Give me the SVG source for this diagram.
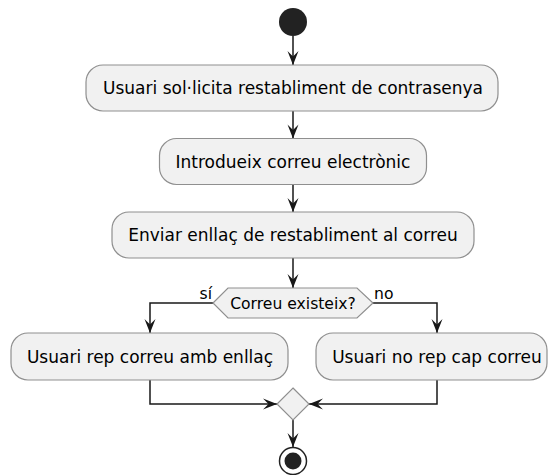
<svg xmlns="http://www.w3.org/2000/svg" width="550" height="475" viewBox="0 0 550 475">
<style>
.box{fill:#F1F1F1;stroke:#8f8f8f;stroke-width:1.2}
.t{font-family:"DejaVu Sans",sans-serif;font-size:17px;fill:#000;text-anchor:middle}
.s{font-family:"DejaVu Sans",sans-serif;font-size:15.6px;fill:#000}
.c{fill:none;stroke:#181818;stroke-width:1.5}
</style>
<defs>
<marker id="ah" viewBox="-15 -7 16 14" refX="0" refY="0" markerWidth="16" markerHeight="14" markerUnits="userSpaceOnUse" orient="auto">
<path d="M0,0 L-14,-5.5 L-8.5,0 L-14,5.5 Z" fill="#181818"/>
</marker>
</defs>
<g id="connectors">
<path class="c" d="M293,36 V65" marker-end="url(#ah)"/>
<path class="c" d="M293,111 V138.5" marker-end="url(#ah)"/>
<path class="c" d="M293,184.5 V212" marker-end="url(#ah)"/>
<path class="c" d="M293,258 V288" marker-end="url(#ah)"/>
<path class="c" d="M213,303 H150 V333" marker-end="url(#ah)"/>
<path class="c" d="M373,303 H437 V333" marker-end="url(#ah)"/>
<path class="c" d="M150,380 V404 H277" marker-end="url(#ah)"/>
<path class="c" d="M437,380 V404 H309" marker-end="url(#ah)"/>
<path class="c" d="M293,420 V447" marker-end="url(#ah)"/>
<text class="s" x="212" y="299" text-anchor="end">sí</text>
<text class="s" x="374" y="299">no</text>
</g>
<g id="start"><circle cx="293" cy="22" r="14" fill="#222"/></g>
<g id="n1"><rect class="box" x="86" y="65" width="412" height="46" rx="17"/><text class="t" x="293" y="94">Usuari sol·licita restabliment de contrasenya</text></g>
<g id="n2"><rect class="box" x="159.5" y="138.5" width="267" height="46" rx="17"/><text class="t" x="293" y="167.5">Introdueix correu electrònic</text></g>
<g id="n3"><rect class="box" x="112" y="212" width="362" height="46" rx="17"/><text class="t" x="293" y="241">Enviar enllaç de restabliment al correu</text></g>
<g id="d1"><polygon class="box" points="213,303 228,288 357,288 373,303 357,318 228,318"/><text class="s" x="293" y="308.5" text-anchor="middle">Correu existeix?</text></g>
<g id="n4"><rect class="box" x="11" y="333" width="277" height="47" rx="17"/><text class="t" x="150" y="362.5">Usuari rep correu amb enllaç</text></g>
<g id="n5"><rect class="box" x="316" y="333" width="231" height="47" rx="17"/><text class="t" x="437" y="362.5">Usuari no rep cap correu</text></g>
<g id="merge"><polygon class="box" points="293,388 309,404 293,420 277,404"/></g>
<g id="end"><circle cx="293" cy="461" r="13.5" fill="none" stroke="#222" stroke-width="1.5"/><circle cx="293" cy="461" r="8.5" fill="#222"/></g>
</svg>
